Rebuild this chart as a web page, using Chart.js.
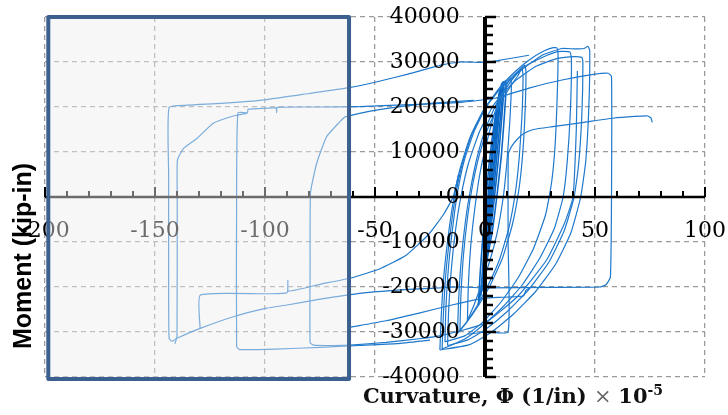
<!DOCTYPE html>
<html>
<head>
<meta charset="utf-8">
<script src="https://cdn.jsdelivr.net/npm/chart.js@4.4.0/dist/chart.umd.min.js"></script>
<style>
  html, body { margin: 0; padding: 0; background: #fff; }
</style>
</head>
<body>
<canvas id="chart" width="728" height="415"></canvas>
<script>
// axis ranges / ticks
const xRange = [-200, 100];
const yRange = [-40000, 40000];
const xMajor = 50, xMinor = 10;
const yMajor = 10000, yMinor = 2000;
const yLabelAnchor = -11.5;             // curvature where the moment labels end (left of the axis)
const xLabelAnchor = -4700;             // moment just under the axis where curvature labels hang
const shadedCurvature = [-198.5, -61.8]; // curvature span of the highlighted box

// moment-curvature history, [curvature, moment] pairs
const coreLoop1 = [[-1,-20000],[0.2,-11000],[1.5,-2000],[3,7000],[4.5,15000],[6,21000],[7.3,24500],[7.6,25200],[7.2,22500],[5.8,15000],[4.2,6000],[2.6,-3000],[1,-12000],[-1,-20000]];
const coreLoop2 = [[-2,-22000],[-0.8,-14000],[0.6,-5000],[2,4000],[3.6,12000],[5.2,19000],[6.8,23500],[8.3,25600],[8.6,24000],[7.5,17000],[6,8000],[4.3,0],[2.2,-9000],[0,-16500],[-2,-22000]];
const coreLoop3 = [[-0.5,-18000],[0.6,-9000],[1.8,0],[3.2,9000],[4.6,16000],[6,21500],[6.6,23000],[6.3,20000],[5,12000],[3.5,3000],[2,-6000],[0.6,-13000],[-0.5,-18000]];
const coreLoop4 = [[-3,-24000],[-2.2,-17000],[-1,-9000],[0.3,-1000],[1.8,7000],[3.5,14000],[5.5,20000],[7.8,24200],[9.2,25800],[9.6,24500],[8.8,18000],[7.4,9000],[5.6,1000],[3.2,-8000],[0.5,-15000],[-3,-24000]];
const coreLoop5 = [[-1.5,-21000],[-0.3,-12500],[1,-3500],[2.5,5500],[4,13500],[5.6,20500],[7,24000],[8,25000],[7.9,22800],[6.6,15500],[5,7000],[3.4,-1500],[1.6,-10000],[-1.5,-21000]];
const coreLoop6 = [[0,-15000],[1,-7000],[2.2,1500],[3.5,9500],[4.8,16500],[5.8,20500],[5.6,18000],[4.4,10000],[3,2000],[1.5,-6000],[0,-15000]];
const midLoop1 = [[-8,-27500],[-7.6,-20000],[-6.5,-11000],[-4.5,-2000],[-2,6000],[1.5,13500],[5,19500],[8.5,23500],[11.5,26300],[12,25000],[11.3,17000],[10,8000],[8.3,0],[5.5,-8000],[2,-14500],[-2,-20000],[-5,-24000],[-8,-27500]];
const midLoop2 = [[-12.5,-30300],[-12,-23000],[-10.8,-14000],[-8.8,-5000],[-6.5,2000],[-3.5,9000],[0.5,15500],[5.5,21000],[11,25200],[15.5,28000],[18,29300],[18.6,28000],[18.3,20000],[17.2,10000],[15.5,2000],[12.5,-6000],[8,-13500],[2.5,-19500],[-3.5,-24500],[-8.5,-28000],[-12.5,-30300]];
const midLoop3 = [[-11.4,-29600],[-11,-22500],[-9.8,-13000],[-7.8,-4000],[-5.5,3000],[-2.5,9500],[1.5,15500],[6.5,20500],[11.5,24500],[15,27000],[16.8,28600],[17.3,27000],[16.8,18000],[15.6,9000],[13.8,1000],[10.8,-7000],[6.5,-14000],[1.5,-19500],[-4,-24500],[-8,-27500],[-11.4,-29600]];
const bigLoop1 = [[-18.2,-32200],[-17.8,-25000],[-16.5,-15000],[-14.5,-6000],[-12.5,1000],[-9.5,8000],[-5,14500],[0.5,20000],[7,24500],[14,28000],[21,30800],[27,32500],[31,33200],[32.7,33100],[33.2,31500],[32.8,22000],[31.8,11000],[30.2,3000],[27.5,-4000],[22,-11500],[15,-18000],[7,-23500],[-1,-27800],[-9,-30800],[-18.2,-32200]];
const bigLoop2 = [[-19.5,-33800],[-19,-27000],[-17.8,-17000],[-15.8,-8000],[-13.5,0],[-10.5,7000],[-6,14000],[0,19800],[8,24800],[17,28700],[26,31000],[33,32300],[38.6,32200],[39.3,30500],[38.8,19000],[37.4,8000],[35.5,0],[31.5,-7000],[25,-13500],[17,-19500],[8,-24500],[-1,-28500],[-9,-31500],[-19.5,-33800]];
const bigLoop3 = [[-17,-33000],[-16.6,-26000],[-15.3,-16000],[-13.3,-7000],[-11,0],[-7.5,7500],[-2.5,14500],[4,20500],[13,25500],[23,29000],[33,30800],[41,31200],[44,31000],[44.5,29500],[44,18000],[42.5,7000],[40.5,0],[36,-7500],[29,-14500],[20,-20500],[10,-25500],[0,-29500],[-8,-31800],[-17,-33000]];
const bigLoop4 = [[-20.5,-34000],[-20,-27500],[-18.8,-18000],[-16.8,-9000],[-14.6,-1500],[-11.5,6000],[-7,13000],[-1,19000],[6,23500],[16,28000],[26,31500],[35,33000],[41,32900],[45,33000],[46.8,33500],[47.6,32500],[47.2,20000],[45.8,8000],[43.5,0],[39,-8000],[32,-15000],[23,-21000],[13,-26000],[3,-30000],[-7,-32800],[-20.5,-34000]];
const sweep143 = [[20,31500],[8,30500],[0,29900],[-11,30000],[-20,29300],[-35,27300],[-50,25500],[-62,24300],[-80,23000],[-100,21600],[-120,20800],[-135,20400],[-143.6,19900],[-143.8,5000],[-143.8,-20000],[-143.6,-31400],[-142.2,-32100],[-140.5,-31500],[-129.5,-29200],[-114.4,-26600],[-99.2,-24700],[-90,-24000],[-75,-22700],[-57,-21400],[-40,-20700],[-25,-20300],[-12.7,-20000],[0.9,-20200],[30,-20100],[52,-20000],[55,-19500],[57,-17800],[57.5,0],[57.5,26800],[56,27500],[50,27300],[35,26000],[20,24200],[5,22000],[-10,21100],[-30,20600],[-57,20100]];
const sweep140 = [[-141,-32600],[-140,-31000],[-139.9,0],[-139.8,8200],[-137,10800],[-131,13000],[-123.5,16400],[-114.4,18000],[-108.3,18600]];
const step130 = [[-129.5,-29200],[-129.4,-21800],[-100,-21500],[-90,-21300],[-89.6,-18500],[-89.3,-20900],[-75,-19400],[-61,-18000],[-48,-16000],[-36,-13000],[-26,-8500],[-19,-4000],[-14.5,0],[-12,5000]];
const sweep113 = [[-57,20100],[-75,20000],[-94.5,19900],[-94.7,18800],[-95,19800],[-105,19600],[-107.7,19500],[-108,18700],[-112.3,18700],[-112.9,0],[-112.9,-33300],[-111.5,-33900],[-95,-33800],[-75,-33400],[-57,-33000],[-40,-32600],[-25,-31800]];
const sweep80 = [[-5,21500],[-20,21000],[-35,20300],[-48,19400],[-57,18600],[-63.6,17800],[-66,16700],[-72,13400],[-76.5,7500],[-79.3,1000],[-79.5,-15000],[-79.5,-32400],[-78,-32900],[-69,-33000],[-61,-32900],[-45,-32300],[-30,-31500],[-20,-30800],[0,-28000],[15,-22000],[28,-14000],[36,-6000],[40,0],[41.5,15000],[42,28000]];
const step20 = [[-61,-28900],[-45,-27500],[-30,-25800],[-15,-24000],[-2,-22600],[2.3,-22400],[17.5,-22000],[18.5,-20800],[20,-20300]];
const sweep76 = [[-8,-30500],[1,-30000],[10.5,-30000],[10.5,-10000],[10.6,9500],[12,11200],[15,13000],[18,14200],[22,15000],[30,15600],[45,16600],[58,17500],[68,17900],[74,18000],[75.5,17500],[76,16600]];

const corePaths = [coreLoop1, coreLoop2, coreLoop3, coreLoop4, coreLoop5, coreLoop6];
const outerPaths = [midLoop1, midLoop2, midLoop3, bigLoop1, bigLoop2, bigLoop3, bigLoop4,
  sweep143, sweep140, step130, sweep113, sweep80, step20, sweep76];

const lineColor = 'rgb(30,120,204)';
const coreColor = 'rgb(12,104,196)';
const serif = '"DejaVu Serif", serif';

const toDataset = (p, color, width) => ({
  data: p.map(([x, y]) => ({ x, y })),
  showLine: true,
  borderColor: color,
  borderWidth: width,
  pointRadius: 0,
  tension: 0.15,
  fill: false
});
const datasets = outerPaths.map(p => toDataset(p, lineColor, 1.2))
  .concat(corePaths.map(p => toDataset(p, coreColor, 1.6)));

const axesAndBox = {
  id: 'axesAndBox',
  afterDatasetsDraw(chart) {
    const { ctx, scales: { x, y } } = chart;
    const x0 = x.getPixelForValue(0);
    const y0 = y.getPixelForValue(0);
    ctx.save();
    ctx.strokeStyle = '#000';
    ctx.lineCap = 'butt';
    // horizontal axis with upward ticks
    ctx.lineWidth = 2.5;
    ctx.beginPath();
    ctx.moveTo(x.left, y0);
    ctx.lineTo(x.right, y0);
    ctx.stroke();
    ctx.lineWidth = 2;
    for (let v = xRange[0]; v <= xRange[1]; v += xMinor) {
      const px = x.getPixelForValue(v);
      const len = v % xMajor === 0 ? 10 : 6;
      ctx.beginPath();
      ctx.moveTo(px, y0);
      ctx.lineTo(px, y0 - len);
      ctx.stroke();
    }
    // vertical axis with ticks to the right
    ctx.lineWidth = 4;
    ctx.beginPath();
    ctx.moveTo(x0, y.top);
    ctx.lineTo(x0, y.bottom);
    ctx.stroke();
    ctx.lineWidth = 2.5;
    for (let v = yRange[0]; v <= yRange[1]; v += yMinor) {
      const py = y.getPixelForValue(v);
      const len = v % yMajor === 0 ? 11 : 8;
      ctx.beginPath();
      ctx.moveTo(x0, py);
      ctx.lineTo(x0 + len, py);
      ctx.stroke();
    }
    ctx.restore();
  },
  afterDraw(chart) {
    const { ctx, scales: { x, y } } = chart;
    const l = x.getPixelForValue(shadedCurvature[0]);
    const r = x.getPixelForValue(shadedCurvature[1]);
    const t = y.top;
    const b = y.bottom + 2;
    ctx.save();
    ctx.fillStyle = 'rgba(238,238,238,0.45)';
    ctx.fillRect(l, t, r - l, b - t);
    ctx.strokeStyle = '#3b5f8e';
    ctx.lineWidth = 4;
    ctx.lineJoin = 'round';
    ctx.strokeRect(l, t, r - l, b - t);

    // y title
    ctx.fillStyle = '#000';
    ctx.font = 'bold 25px "Liberation Sans", Arial, sans-serif';
    ctx.textAlign = 'center';
    ctx.textBaseline = 'middle';
    ctx.save();
    ctx.translate(24, 256);
    ctx.rotate(-Math.PI / 2);
    ctx.fillText('Moment (kip-in)', 0, 0);
    ctx.restore();

    // x title
    const parts = [
      { s: 'Curvature, \u03A6 (1/in) ', f: 'bold 21px ' + serif, c: '#111', dy: 0 },
      { s: '\u00D7 ', f: '21px ' + serif, c: '#666', dy: 0 },
      { s: '10', f: 'bold 21px ' + serif, c: '#111', dy: 0 },
      { s: '-5', f: 'bold 14px ' + serif, c: '#111', dy: -8 }
    ];
    let total = 0;
    parts.forEach(p => { ctx.font = p.f; p.w = ctx.measureText(p.s).width; total += p.w; });
    let cx = 513 - total / 2;
    ctx.textAlign = 'left';
    ctx.textBaseline = 'alphabetic';
    parts.forEach(p => {
      ctx.font = p.f;
      ctx.fillStyle = p.c;
      ctx.fillText(p.s, cx, 403 + p.dy);
      cx += p.w;
    });
    ctx.restore();
  }
};

new Chart(document.getElementById('chart'), {
  type: 'scatter',
  data: { datasets },
  options: {
    responsive: false,
    animation: false,
    devicePixelRatio: 1,
    layout: { autoPadding: false, padding: { left: 45, right: 23, top: 17, bottom: 38 } },
    plugins: { legend: { display: false }, tooltip: { enabled: false } },
    scales: {
      x: {
        type: 'linear',
        min: xRange[0],
        max: xRange[1],
        position: { y: xLabelAnchor },
        afterFit: s => { s.height = 0; },
        ticks: { stepSize: xMajor, z: 1, padding: 0, color: '#000', maxRotation: 0,
                 callback: v => String(v),
                 font: { family: serif, size: 22 } },
        grid: { color: '#9b9b9b', lineWidth: 1.3, drawTicks: false, z: 0 },
        border: { display: false, dash: [5, 4] }
      },
      y: {
        type: 'linear',
        min: yRange[0],
        max: yRange[1],
        position: { x: yLabelAnchor },
        afterFit: s => { s.width = 0; },
        ticks: { stepSize: yMajor, z: 1, padding: 0, color: '#000',
                 callback: v => String(v),
                 font: { family: serif, size: 22 } },
        grid: { color: '#9b9b9b', lineWidth: 1.3, drawTicks: false, z: 0 },
        border: { display: false, dash: [5, 4] }
      }
    }
  },
  plugins: [axesAndBox]
});
</script>
</body>
</html>
